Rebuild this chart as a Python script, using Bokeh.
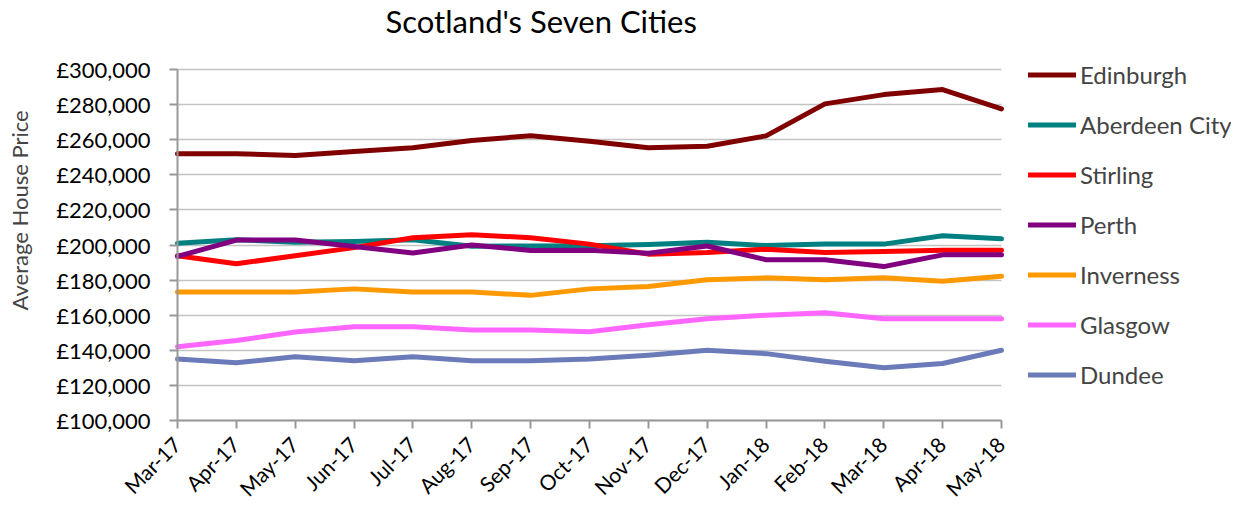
import math
from bokeh.plotting import figure
from bokeh.models import Range1d, FixedTicker, Legend, LegendItem, Title
from bokeh.core.properties import value
from bokeh.embed import file_html
from bokeh.resources import INLINE

months = ["Mar-17", "Apr-17", "May-17", "Jun-17", "Jul-17", "Aug-17", "Sep-17", "Oct-17",
          "Nov-17", "Dec-17", "Jan-18", "Feb-18", "Mar-18", "Apr-18", "May-18"]

edinburgh = [252000, 252000, 251000, 253300, 255400, 259500, 262300, 259100,
             255400, 256300, 262200, 280400, 285700, 288600, 277600]
aberdeen = [201000, 203000, 201500, 202000, 203000, 199300, 199500, 199600,
            200300, 201500, 199700, 200500, 200500, 205300, 203500]
stirling = [193900, 189300, 193900, 198500, 204100, 205900, 204100, 200500,
            194800, 195700, 197600, 195700, 196300, 197000, 197000]
perth = [193500, 202800, 202800, 199100, 195400, 200000, 196900, 197000,
         195300, 199400, 191600, 191600, 187700, 194400, 194400]
inverness = [173200, 173200, 173200, 175000, 173200, 173200, 171300, 175000,
             176400, 180200, 181300, 180200, 181300, 179400, 182200]
glasgow = [142000, 145600, 150400, 153400, 153400, 151600, 151600, 150600,
           154600, 158000, 160000, 161400, 158000, 158000, 158000]
dundee = [135000, 132900, 136300, 134000, 136300, 134000, 134000, 135000,
          137200, 140000, 138100, 133800, 130100, 132500, 140000]

series_names = ["Edinburgh", "Aberdeen City", "Stirling", "Perth", "Inverness", "Glasgow", "Dundee"]
series_values = [edinburgh, aberdeen, stirling, perth, inverness, glasgow, dundee]
series_colors = ["#800000", "#008080", "#FF0000", "#800080", "#FF9900", "#FF66FF", "#6B7BBA"]

y_ticks = list(range(100000, 300001, 20000))

FONT = "Lato"

x = list(range(len(months)))
last = len(months) - 1
y_min, y_max = y_ticks[0], y_ticks[-1]

# ---- layout (pixels inside the figure) ----
W, H = 1231, 502
AREA_L, AREA_R = 177, 1001   # x pixels of first / last month
TOP_PX, BOT_PX = 69, 420     # y pixels of top / bottom value
FRAME_L = 35                 # frame extended so that legend and month labels are inside
FRAME_T = 40
FRAME_B = H
ux = (AREA_R - AREA_L) / last
ky = (y_max - y_min) / (BOT_PX - TOP_PX)
x_lo = -(AREA_L - FRAME_L) / ux
x_hi = (W - AREA_L) / ux
y_hi = y_max + (TOP_PX - FRAME_T) * ky
y_lo = y_min - (FRAME_B - BOT_PX) * ky

p = figure(width=W, height=H, output_backend="svg", toolbar_location=None,
           x_range=Range1d(x_lo, x_hi), y_range=Range1d(y_lo, y_hi),
           min_border_left=FRAME_L, min_border_right=0, min_border_top=FRAME_T,
           min_border_bottom=0)
p.outline_line_color = None
p.background_fill_color = "white"
p.border_fill_color = "white"

# title
p.title.text = "Scotland's Seven Cities"
p.title.align = "left"
p.title.offset = 385 - FRAME_L
p.title.vertical_align = "middle"
p.title.text_font = FONT
p.title.text_font_size = "31px"
p.title.text_font_style = "normal"
p.title.text_color = "black"
p.title.standoff = 0

# x axis at the bottom value; month labels as rotated text
p.xaxis.axis_label = None
p.xaxis.fixed_location = y_min
p.xaxis.bounds = (0, last)
p.xaxis.ticker = FixedTicker(ticks=x)
p.xaxis.major_label_overrides = {i: "" for i in x}
p.xaxis.major_label_text_font_size = "1px"
p.xaxis.major_label_standoff = 0

p.text(x=x, y=[y_min] * len(x), text=months, angle=math.pi / 4,
       text_align="right", text_baseline="middle", x_offset=-1, y_offset=20,
       text_font=value(FONT), text_font_size="21px", text_color="black")

# y axis at the first month
p.yaxis.axis_label = None
p.yaxis.fixed_location = 0
p.yaxis.bounds = (y_min, y_max)
p.yaxis.ticker = FixedTicker(ticks=y_ticks)
p.yaxis.major_label_overrides = {v: "£{:,}".format(v) for v in y_ticks}
p.yaxis.major_label_text_font = FONT
p.yaxis.major_label_text_font_size = "22px"
p.yaxis.major_label_standoff = 19
p.yaxis.major_label_text_color = "black"
for ax in (p.xaxis, p.yaxis):
    ax.axis_line_color = "#999999"
    ax.axis_line_width = 2
    ax.major_tick_line_color = "#999999"
    ax.major_tick_line_width = 2
    ax.major_tick_out = 8
    ax.major_tick_in = 0
    ax.minor_tick_line_color = None

p.xgrid.grid_line_color = None
yg = p.ygrid[0]
yg.grid_line_color = "#C4C4C4"
yg.grid_line_width = 1.5
if "cross_bounds" in yg.properties():
    yg.cross_bounds = (0, last)

ytitle = Title(text="Average House Price", align="left", offset=FRAME_B - 310, text_font=FONT,
               text_font_size="22px", text_font_style="normal", standoff=6)
p.add_layout(ytitle, "left")

items = []
for name, vals, col in zip(series_names, series_values, series_colors):
    r = p.line(x, vals, line_color=col, line_width=5, line_join="round", line_cap="round")
    items.append(LegendItem(label=name, renderers=[r]))

ROW_H, ROW_GAP = 29, 21
LEG_TOP = 74 - ROW_H / 2
LEG_H = 7 * ROW_H + 6 * ROW_GAP
legend = Legend(items=items, location=(1028 - FRAME_L, FRAME_B - LEG_TOP - LEG_H),
                border_line_color=None, background_fill_alpha=0, padding=0, margin=0,
                spacing=ROW_GAP, glyph_width=48, glyph_height=ROW_H, label_height=ROW_H,
                label_standoff=4, label_text_font=FONT, label_text_font_size="24px")
p.add_layout(legend, "center")

open("out.html", "w").write(file_html(p, INLINE))
